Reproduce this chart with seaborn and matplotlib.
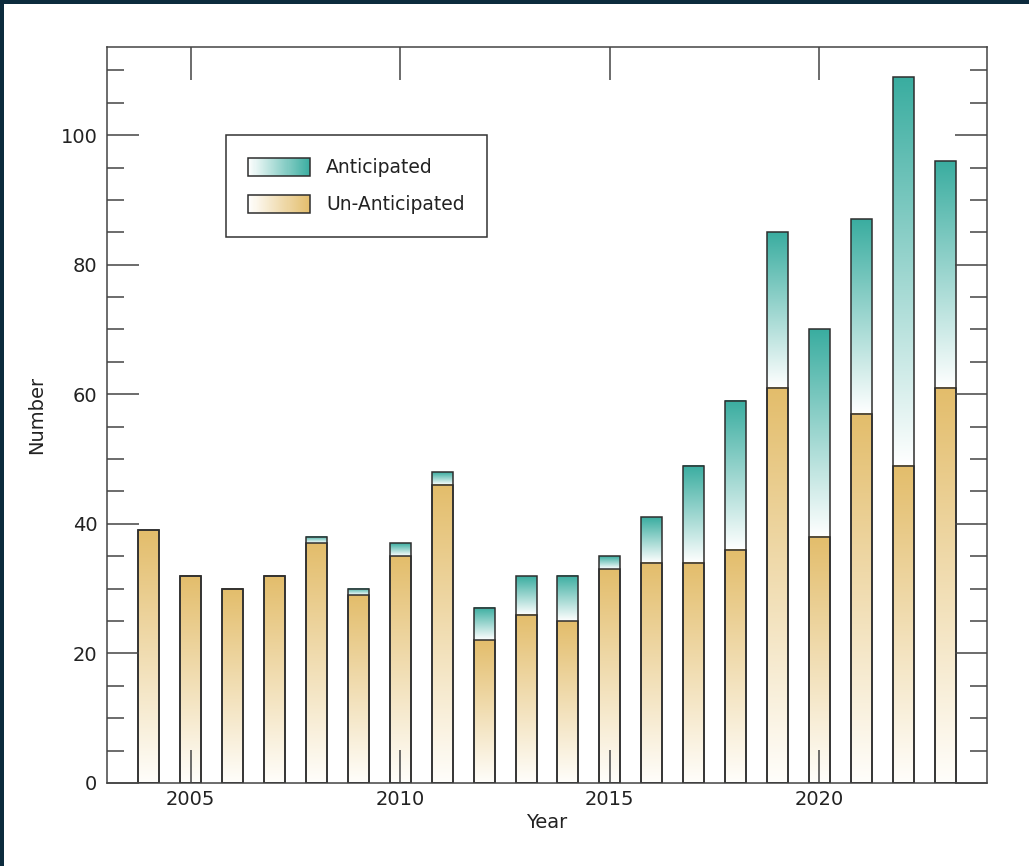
import numpy as np
import pandas as pd
import matplotlib
matplotlib.use("Agg")
import matplotlib.pyplot as plt
import seaborn as sns
from matplotlib.colors import LinearSegmentedColormap, to_rgb
from matplotlib.patches import Rectangle, Patch
from matplotlib.legend_handler import HandlerBase

# ---- data ----
years = list(range(2004, 2024))
unanticipated = [39, 32, 30, 32, 37, 29, 35, 46, 22, 26, 25, 33, 34, 34, 36, 61, 38, 57, 49, 61]
anticipated = [0, 0, 0, 0, 1, 1, 2, 2, 5, 6, 7, 2, 7, 15, 23, 24, 32, 30, 60, 35]
series_labels = ["Anticipated", "Un-Anticipated"]
x_ticks = [2005, 2010, 2015, 2020]
y_ticks = [0, 20, 40, 60, 80, 100]

TEAL = "#3aada0"
GOLD = "#e3bd6b"
EDGE = "#2e2e2e"
NAVY = "#0c2b3d"

df = pd.DataFrame({"Year": years, "Un": unanticipated, "Ant": anticipated})
df["Total"] = df["Un"] + df["Ant"]

sns.set_theme(style="white")
plt.rcParams["font.family"] = ["DejaVu Sans"]

fig = plt.figure(figsize=(10.29, 8.66), dpi=100, facecolor="white")
# dark frame strips (top and left)
fig.patches.append(Rectangle((0, 1 - 4 / 866), 1, 4 / 866, transform=fig.transFigure,
                             facecolor=NAVY, edgecolor="none", zorder=-10))
fig.patches.append(Rectangle((0, 0), 4 / 1029, 1, transform=fig.transFigure,
                             facecolor=NAVY, edgecolor="none", zorder=-10))

ax = fig.add_axes([107 / 1029, (866 - 783) / 866, 880 / 1029, 736 / 866])

teal_cmap = LinearSegmentedColormap.from_list("teal", ["#ffffff", TEAL])
gold_cmap = LinearSegmentedColormap.from_list("gold", ["#fffefb", GOLD])
grad = np.linspace(0, 1, 256).reshape(-1, 1)

# total (anticipated on top) bars
n0 = len(ax.patches)
sns.barplot(data=df, x="Year", y="Total", native_scale=True, width=0.5,
            errorbar=None, ax=ax, color=TEAL)
total_patches = ax.patches[n0:]
# un-anticipated bars
n1 = len(ax.patches)
sns.barplot(data=df, x="Year", y="Un", native_scale=True, width=0.5,
            errorbar=None, ax=ax, color=GOLD)
un_patches = ax.patches[n1:]

lookup = df.set_index("Year")
for p in total_patches:
    yr = int(round(p.get_x() + p.get_width() / 2))
    lo, hi = lookup.loc[yr, "Un"], lookup.loc[yr, "Total"]
    p.set_facecolor("none")
    p.set_edgecolor(EDGE)
    p.set_linewidth(1.1)
    p.set_zorder(1.5)
    if hi > lo:
        ax.imshow(grad, extent=(p.get_x(), p.get_x() + p.get_width(), lo, hi),
                  cmap=teal_cmap, aspect="auto", origin="lower", zorder=1.0,
                  interpolation="bilinear")
for p in un_patches:
    yr = int(round(p.get_x() + p.get_width() / 2))
    hi = lookup.loc[yr, "Un"]
    p.set_facecolor("none")
    p.set_edgecolor(EDGE)
    p.set_linewidth(1.1)
    p.set_zorder(1.6)
    ax.imshow(grad, extent=(p.get_x(), p.get_x() + p.get_width(), 0, hi),
              cmap=gold_cmap, aspect="auto", origin="lower", zorder=1.1,
              interpolation="bilinear")

ax.set_axisbelow(False)
ax.set_xlim(2003, 2024)
ax.set_ylim(0, 113.6)
ax.set_xticks(x_ticks)
ax.set_xticklabels([str(t) for t in x_ticks])
ax.set_yticks(y_ticks)
ax.set_yticks(np.arange(0, 114, 5), minor=True)
ax.tick_params(axis="x", which="major", direction="in", length=24, width=1.1,
               color="#444444", top=True, bottom=True, labelsize=14, pad=5,
               labelcolor="#222222")
ax.tick_params(axis="y", which="major", direction="in", length=23, width=1.1,
               color="#444444", left=True, right=True, labelsize=14, pad=7,
               labelcolor="#222222")
ax.tick_params(axis="y", which="minor", direction="in", length=12, width=1.1,
               color="#444444", left=True, right=True)
for s in ax.spines.values():
    s.set_color("#444444")
    s.set_linewidth(1.1)
    s.set_visible(True)

ax.set_xlabel("Year", fontsize=14, color="#222222", labelpad=3)
ax.set_ylabel("Number", fontsize=14, color="#222222", labelpad=10)


class GradientHandler(HandlerBase):
    def __init__(self, color, n=60):
        super().__init__()
        self.color = color
        self.n = n

    def create_artists(self, legend, orig_handle, xdescent, ydescent, width,
                       height, fontsize, trans):
        c0 = np.array([1.0, 1.0, 1.0])
        c1 = np.array(to_rgb(self.color))
        arts = []
        for k in range(self.n):
            f = (k + 0.5) / self.n
            arts.append(Rectangle((-xdescent + width * k / self.n, -ydescent),
                                  width / self.n * 1.05, height,
                                  facecolor=c0 + (c1 - c0) * f, edgecolor="none",
                                  transform=trans))
        arts.append(Rectangle((-xdescent, -ydescent), width, height,
                              facecolor="none", edgecolor=EDGE, lw=1.1,
                              transform=trans))
        return arts


h_ant = Patch(label=series_labels[0])
h_un = Patch(label=series_labels[1])
leg = ax.legend(handles=[h_ant, h_un], labels=series_labels,
                handler_map={h_ant: GradientHandler(TEAL), h_un: GradientHandler(GOLD)},
                loc="upper left", bbox_to_anchor=(0.135, 0.880), borderaxespad=0,
                fontsize=13.5, frameon=True, fancybox=False, shadow=False,
                edgecolor="#333333", framealpha=1, handlelength=3.3,
                handleheight=1.1, handletextpad=0.85, labelspacing=0.95,
                borderpad=1.2)
leg.get_frame().set_linewidth(1.1)
for t in leg.get_texts():
    t.set_color("#222222")

fig.savefig("out.png", dpi=100, facecolor=fig.get_facecolor())
